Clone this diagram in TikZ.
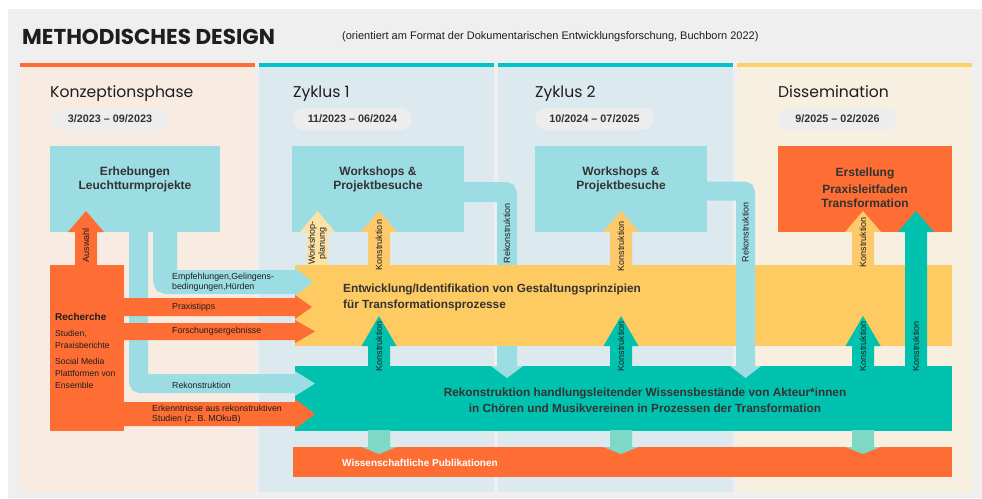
\documentclass[tikz,border=0pt]{standalone}
\usepackage{fontspec}
\setmainfont{Liberation Sans}
\newfontfamily\pop{Poppins}
\definecolor{bggray}{HTML}{EFEFEF}
\definecolor{peach}{HTML}{F8EBE2}
\definecolor{lblue}{HTML}{DCE9EE}
\definecolor{cream}{HTML}{F7EFDF}
\definecolor{orng}{HTML}{FE6D34}
\definecolor{tealbar}{HTML}{00C4C8}
\definecolor{yelbar}{HTML}{FDD06A}
\definecolor{cyanbox}{HTML}{9CDDE3}
\definecolor{yband}{HTML}{FECA62}
\definecolor{tband}{HTML}{00C2AE}
\definecolor{lteal}{HTML}{7DD8C6}
\definecolor{pyel}{HTML}{FDE2A6}
\definecolor{kyel}{HTML}{FDC96A}
\definecolor{pillc}{HTML}{EDEDED}
\definecolor{txt}{HTML}{333333}
\definecolor{ink}{HTML}{1E1E1E}
\tikzset{
  pipe/.style={draw=cyanbox, rounded corners=2, line cap=butt},
  head/.style={inner sep=0, font=\pop\fontsize{15.6}{18}\selectfont, text=ink, anchor=base west},
  pillst/.style={fill=pillc, rounded corners=11, minimum width=119, minimum height=22, inner sep=0, font=\bfseries\fontsize{10.8}{12}\selectfont, text=txt},
  boxtxt/.style={inner sep=0, align=center, font=\bfseries\fontsize{12}{14}\selectfont, text=txt},
  bandtxt/.style={inner sep=0, font=\bfseries\fontsize{11.8}{16}\selectfont, text=txt},
  lab/.style={inner sep=0, anchor=west, align=left, font=\fontsize{8.8}{10}\selectfont, text=ink},
  vlab/.style={inner sep=0, rotate=90, align=center, font=\fontsize{9}{10}\selectfont, text=ink},
  rtxt/.style={inner sep=0, anchor=west, align=left, font=\fontsize{8.6}{12}\selectfont, text=ink},
}
\begin{document}
\begin{tikzpicture}[x=1pt,y=-1pt]
\useasboundingbox (0,0) rectangle (982,498);
\fill[white] (0,0) rectangle (982,498);
\fill[bggray] (8,9) rectangle (982,498);
% title
\node[inner sep=0, anchor=west, font=\pop\bfseries\fontsize{21.5}{24}\selectfont, text=ink] (title) at (22,37) {METHODISCHES DESIGN};
\node[inner sep=0, anchor=west, font=\fontsize{11}{13}\selectfont, text=ink] (sub) at (342,37) {(orientiert am Format der Dokumentarischen Entwicklungsforschung, Buchborn 2022)};
% columns
\fill[peach] (20,67) rectangle (255,492); \fill[orng] (20,63) rectangle (255,67);
\fill[lblue] (259,67) rectangle (494,492); \fill[tealbar] (259,63) rectangle (494,67);
\fill[lblue] (498,67) rectangle (733,492); \fill[tealbar] (498,63) rectangle (733,67);
\fill[cream] (737,67) rectangle (972,492); \fill[yelbar] (737,63) rectangle (972,67);
% headers
\node[head] (h1) at (50,97) {Konzeptionsphase};
\node[head] (h2) at (293,97) {Zyklus 1};
\node[head] (h3) at (535,97) {Zyklus 2};
\node[head] (h4) at (778,97) {Dissemination};
\node[pillst] (p1) at (110,119) {3/2023 – 09/2023};
\node[pillst] (p2) at (352.5,119) {11/2023 – 06/2024};
\node[pillst] (p3) at (594.5,119) {10/2024 – 07/2025};
\node[pillst] (p4) at (837.5,119) {9/2025 – 02/2026};
% pipe of Zyklus 1 (behind the yellow band)
\draw[pipe, line width=20] (460,192) -- (507,192) -- (507,366);
% boxes
\fill[cyanbox] (50,146) rectangle (220,232);
\fill[cyanbox] (292,146) rectangle (464,232);
\fill[cyanbox] (535,146) rectangle (707,232);
\fill[orng] (778,146) rectangle (952,232);
\node[boxtxt] (erh) at (135,179.5) {Erhebungen\\Leuchtturmprojekte};
\node[boxtxt] (ws1) at (378,179.5) {Workshops \&\\Projektbesuche};
\node[boxtxt] (ws2) at (621,179.5) {Workshops \&\\Projektbesuche};
\node[boxtxt] (ers) at (865,173) {Erstellung};
\node[boxtxt] (pra) at (865,196.5) {Praxisleitfaden\\Transformation};
% bands
\fill[yband] (295,265) rectangle (952,346);
\fill[tband] (295,366) rectangle (952,431);
\fill[orng] (293,447) rectangle (952,477);
% head of pipe Zyklus 1
\fill[cyanbox] (491,366) -- (523,366) -- (507,378) -- cycle;
% pipe of Zyklus 2 (over the yellow band)
\draw[pipe, line width=19] (703,191) -- (745.5,191) -- (745.5,366);
\fill[cyanbox] (730,366) -- (761,366) -- (745.5,378) -- cycle;
% left pipes
\draw[pipe, line width=19] (138.5,228) -- (138.5,383.5) -- (295.5,383.5);
\fill[cyanbox] (295,371) -- (315,383.5) -- (295,396) -- cycle;
\draw[pipe, line width=24] (165,228) -- (165,282) -- (295.5,282);
\fill[cyanbox] (295,268) -- (313,282) -- (295,296) -- cycle;
% Recherche
\fill[orng] (50,265) rectangle (124,431);
\fill[orng] (120,298) -- (295,298) -- (295,295) -- (312,307) -- (295,319) -- (295,316) -- (120,316) -- cycle;
\fill[orng] (120,323) -- (295,323) -- (295,320) -- (315,331.5) -- (295,343) -- (295,340) -- (120,340) -- cycle;
\fill[orng] (120,402) -- (295,402) -- (295,399) -- (315,414) -- (295,429) -- (295,426) -- (120,426) -- cycle;
% Auswahl arrow
\fill[orng] (75,266) -- (75,232) -- (68,232) -- (86,211) -- (104,232) -- (97,232) -- (97,266) -- cycle;
% up arrows into boxes
\fill[pyel] (307,265) -- (307,232) -- (300,232) -- (317.5,211) -- (335,232) -- (328,232) -- (328,265) -- cycle;
\foreach \c in {379,621,863}{
  \fill[kyel] (\c-11,265) -- (\c-11,232) -- (\c-18,232) -- (\c,211) -- (\c+18,232) -- (\c+11,232) -- (\c+11,265) -- cycle;
  \fill[tband] (\c-11,367) -- (\c-11,346) -- (\c-17.5,346) -- (\c,316) -- (\c+17.5,346) -- (\c+11,346) -- (\c+11,367) -- cycle;
  \fill[lteal] (\c-11,430) -- (\c-11,447) -- (\c-17.5,447) -- (\c,454) -- (\c+17.5,447) -- (\c+11,447) -- (\c+11,430) -- cycle;
}
\fill[tband] (905,367) -- (905,232) -- (898,232) -- (916,211) -- (934,232) -- (927,232) -- (927,367) -- cycle;
% band texts
\node[bandtxt, anchor=west, align=left] (entw) at (343,297) {Entwicklung/Identifikation von Gestaltungsprinzipien\\für Transformationsprozesse};
\node[bandtxt, align=center] (rek) at (645,400) {Rekonstruktion handlungsleitender Wissensbestände von Akteur*innen\\in Chören und Musikvereinen in Prozessen der Transformation};
\node[inner sep=0, anchor=west, font=\bfseries\fontsize{10}{12}\selectfont, text=white] (pub) at (342,463) {Wissenschaftliche Publikationen};
% arrow labels
\node[lab] (l1) at (172,282) {Empfehlungen,Gelingens-\\bedingungen,Hürden};
\node[lab] (l2) at (172,307) {Praxistipps};
\node[lab] (l3) at (172,331.5) {Forschungsergebnisse};
\node[lab] (l4) at (172,385) {Rekonstruktion};
\node[lab] (l5) at (152,414) {Erkenntnisse aus rekonstruktiven\\Studien (z. B. MOkuB)};
% Recherche text
\node[inner sep=0, anchor=west, font=\bfseries\fontsize{10}{12}\selectfont, text=ink] (rech) at (55,317) {Recherche};
\node[rtxt] (r1) at (55,339) {Studien,\\Praxisberichte};
\node[rtxt] (r2) at (55,373) {Social Media\\Plattformen von\\Ensemble};
% vertical labels
\node[vlab] (v1) at (86,245) {Auswahl};
\node[vlab] (v2) at (317.5,243) {Workshop-\\planung};
\node[vlab] (v3) at (379,245) {Konstruktion};
\node[vlab] (v4) at (621,246) {Konstruktion};
\node[vlab] (v5) at (863,242) {Konstruktion};
\node[vlab] (v6) at (507,233) {Rekonstruktion};
\node[vlab] (v7) at (745.5,232) {Rekonstruktion};
\foreach \c/\n in {379/a,621/b,863/c,916/d}{
  \node[vlab] (k\n) at (\c,346) {Konstruktion};
}
\end{tikzpicture}
\end{document}
